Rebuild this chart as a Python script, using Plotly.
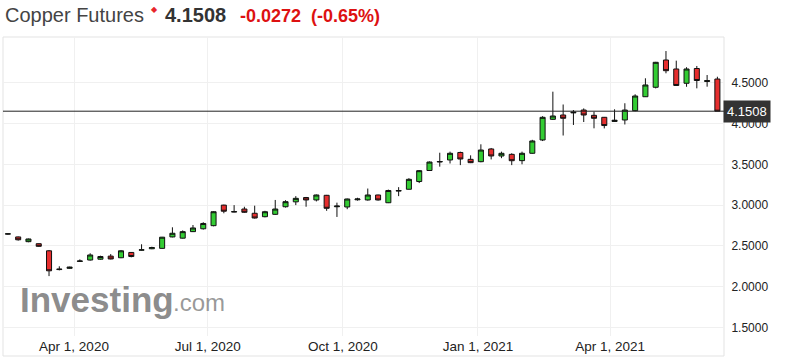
import plotly.graph_objects as go

dates = [
    "2020-02-16", "2020-02-23", "2020-03-01", "2020-03-08", "2020-03-15", "2020-03-22", "2020-03-29",
    "2020-04-05", "2020-04-12", "2020-04-19", "2020-04-26", "2020-05-03", "2020-05-10", "2020-05-17",
    "2020-05-24", "2020-05-31", "2020-06-07", "2020-06-14", "2020-06-21", "2020-06-28", "2020-07-05",
    "2020-07-12", "2020-07-19", "2020-07-26", "2020-08-02", "2020-08-09", "2020-08-16", "2020-08-23",
    "2020-08-30", "2020-09-06", "2020-09-13", "2020-09-20", "2020-09-27", "2020-10-04", "2020-10-11",
    "2020-10-18", "2020-10-25", "2020-11-01", "2020-11-08", "2020-11-15", "2020-11-22", "2020-11-29",
    "2020-12-06", "2020-12-13", "2020-12-20", "2020-12-27", "2021-01-03", "2021-01-10", "2021-01-17",
    "2021-01-24", "2021-01-31", "2021-02-07", "2021-02-14", "2021-02-21", "2021-02-28", "2021-03-07",
    "2021-03-14", "2021-03-21", "2021-03-28", "2021-04-04", "2021-04-11", "2021-04-18", "2021-04-25",
    "2021-05-02", "2021-05-09", "2021-05-16", "2021-05-23", "2021-05-30", "2021-06-06", "2021-06-13",
]

opens = [2.645, 2.610, 2.552, 2.527, 2.440, 2.210, 2.225, 2.310, 2.327, 2.337, 2.375, 2.355, 2.420, 2.448,
         2.465, 2.470, 2.610, 2.595, 2.675, 2.710, 2.748, 3.000, 2.915, 2.952, 2.900, 2.858, 2.887, 2.980,
         3.040, 3.093, 3.063, 3.120, 2.980, 2.977, 3.065, 3.063, 3.124, 3.029, 3.172, 3.194, 3.289, 3.424,
         3.528, 3.553, 3.645, 3.561, 3.532, 3.688, 3.602, 3.622, 3.545, 3.635, 3.798, 4.051, 4.104, 4.130,
         4.165, 4.100, 4.076, 4.025, 4.043, 4.157, 4.328, 4.444, 4.778, 4.668, 4.493, 4.674, 4.515, 4.545]
highs = [2.652, 2.615, 2.590, 2.530, 2.450, 2.250, 2.245, 2.335, 2.410, 2.380, 2.400, 2.450, 2.425, 2.520,
         2.490, 2.610, 2.728, 2.690, 2.756, 2.790, 2.925, 3.005, 3.000, 2.980, 2.993, 2.930, 3.063, 3.060,
         3.110, 3.100, 3.130, 3.125, 3.030, 3.080, 3.090, 3.203, 3.128, 3.190, 3.220, 3.330, 3.430, 3.535,
         3.642, 3.655, 3.655, 3.610, 3.745, 3.700, 3.655, 3.635, 3.655, 3.800, 4.090, 4.390, 4.233, 4.165,
         4.185, 4.145, 4.080, 4.174, 4.248, 4.358, 4.554, 4.755, 4.888, 4.770, 4.690, 4.705, 4.594, 4.573]
lows = [2.638, 2.565, 2.545, 2.490, 2.130, 2.200, 2.220, 2.305, 2.320, 2.330, 2.335, 2.350, 2.360, 2.443,
        2.460, 2.465, 2.605, 2.590, 2.670, 2.700, 2.740, 2.900, 2.912, 2.905, 2.835, 2.850, 2.880, 2.970,
        3.000, 2.980, 3.045, 2.930, 2.855, 2.950, 3.055, 3.055, 3.055, 3.025, 3.110, 3.190, 3.270, 3.420,
        3.471, 3.510, 3.490, 3.515, 3.525, 3.560, 3.575, 3.490, 3.500, 3.630, 3.785, 4.045, 3.853, 3.982,
        4.018, 3.941, 3.940, 4.020, 3.988, 4.150, 4.325, 4.430, 4.615, 4.460, 4.450, 4.431, 4.451, 4.1508]
closes = [2.648, 2.575, 2.585, 2.495, 2.195, 2.215, 2.240, 2.315, 2.389, 2.370, 2.340, 2.440, 2.370, 2.452,
          2.480, 2.607, 2.655, 2.675, 2.720, 2.775, 2.919, 2.925, 2.920, 2.912, 2.842, 2.919, 2.952, 3.042,
          3.083, 3.063, 3.124, 2.961, 2.988, 3.075, 3.075, 3.124, 3.063, 3.179, 3.178, 3.316, 3.422, 3.528,
          3.534, 3.635, 3.565, 3.520, 3.675, 3.602, 3.635, 3.544, 3.635, 3.786, 4.076, 4.092, 4.064, 4.138,
          4.104, 4.064, 3.975, 4.040, 4.165, 4.337, 4.472, 4.750, 4.647, 4.466, 4.668, 4.527, 4.525, 4.1508]

last_price = 4.1508
price_change = "-0.0272"
pct_change = "(-0.65%)"
title_text = "Copper Futures"

x_tick_vals = ["2020-04-01", "2020-07-01", "2020-10-01", "2021-01-01", "2021-04-01"]
x_tick_text = ["Apr 1, 2020", "Jul 1, 2020", "Oct 1, 2020", "Jan 1, 2021", "Apr 1, 2021"]
y_tick_vals = [1.5, 2.0, 2.5, 3.0, 3.5, 4.0, 4.5]
y_tick_text = ["1.5000", "2.0000", "2.5000", "3.0000", "3.5000", "4.0000", "4.5000"]

W, H = 797, 361
L, R, T, B = 3, 724, 37, 336
FONT = "Arial, Liberation Sans, sans-serif"


def px_x(px):
    return (px - L) / (R - L)


def px_y(py):
    return (B - py) / (B - T)


fig = go.Figure()
fig.add_trace(go.Candlestick(
    x=dates, open=opens, high=highs, low=lows, close=closes,
    increasing=dict(line=dict(color="#111111", width=1), fillcolor="#33cc33"),
    decreasing=dict(line=dict(color="#111111", width=1), fillcolor="#e62e2e"),
    whiskerwidth=0, showlegend=False, hoverinfo="skip",
))

shapes = [
    dict(type="rect", xref="paper", yref="paper", x0=0, x1=1, y0=px_y(356), y1=1,
         line=dict(color="#e3e3e3", width=1), fillcolor="rgba(0,0,0,0)", layer="below"),
    dict(type="line", xref="paper", yref="y", x0=0, x1=1, y0=last_price, y1=last_price,
         line=dict(color="#222222", width=1)),
]

annotations = [
    dict(text=title_text, x=px_x(3), y=px_y(15), xref="paper", yref="paper", xanchor="left",
         yanchor="middle", showarrow=False, font=dict(family=FONT, size=20, color="#444444")),
    dict(text="◆", x=px_x(149), y=px_y(9), xref="paper", yref="paper", xanchor="left",
         yanchor="middle", showarrow=False, font=dict(family=FONT, size=8, color="#e8262b")),
    dict(text="<b>%.4f</b>" % last_price, x=px_x(163), y=px_y(15), xref="paper", yref="paper",
         xanchor="left", yanchor="middle", showarrow=False,
         font=dict(family=FONT, size=20, color="#333333")),
    dict(text="<b>" + price_change + "</b>", x=px_x(238), y=px_y(16), xref="paper", yref="paper",
         xanchor="left", yanchor="middle", showarrow=False,
         font=dict(family=FONT, size=18, color="#dd1111")),
    dict(text="<b>" + pct_change + "</b>", x=px_x(309), y=px_y(16), xref="paper", yref="paper",
         xanchor="left", yanchor="middle", showarrow=False,
         font=dict(family=FONT, size=18, color="#dd1111")),
    dict(text="%.4f" % last_price, x=px_x(723), y=last_price, xref="paper", yref="y",
         xanchor="left", yanchor="middle", showarrow=False, bgcolor="#333333", borderpad=3,
         font=dict(family=FONT, size=13, color="#ffffff")),
    dict(text="<b>Investing</b>", x=px_x(18), y=px_y(299), xref="paper", yref="paper",
         xanchor="left", yanchor="middle", showarrow=False,
         font=dict(family=FONT, size=35, color="rgba(125,125,125,0.9)")),
    dict(text=".com", x=px_x(171), y=px_y(302), xref="paper", yref="paper",
         xanchor="left", yanchor="middle", showarrow=False,
         font=dict(family=FONT, size=24, color="rgba(135,135,135,0.85)")),
]

fig.update_layout(
    width=W, height=H,
    margin=dict(l=L, r=W - R, t=T, b=H - B),
    paper_bgcolor="white", plot_bgcolor="white",
    font=dict(family=FONT, color="#222222"),
    showlegend=False,
    hovermode=False,
    shapes=shapes,
    annotations=annotations,
    xaxis=dict(
        type="date",
        range=["2020-02-12 16:00", "2021-06-17 12:00"],
        tickvals=x_tick_vals, ticktext=x_tick_text,
        tickfont=dict(size=13.5, color="#222222"),
        showgrid=True, gridcolor="#f0f0f0", gridwidth=1,
        zeroline=False, showline=False, ticks="",
        rangeslider=dict(visible=False),
    ),
    yaxis=dict(
        side="right",
        range=[1.396, 5.06],
        tickvals=y_tick_vals, ticktext=y_tick_text,
        tickfont=dict(size=12, color="#222222"),
        showgrid=True, gridcolor="#f0f0f0", gridwidth=1,
        zeroline=False, showline=False,
        ticks="outside", ticklen=4, tickcolor="rgba(0,0,0,0)",
    ),
)

fig.write_html(
    "out.html",
    config={"displayModeBar": False, "staticPlot": True},
    post_script="document.body.style.margin='0px';document.body.style.overflow='hidden';",
)
